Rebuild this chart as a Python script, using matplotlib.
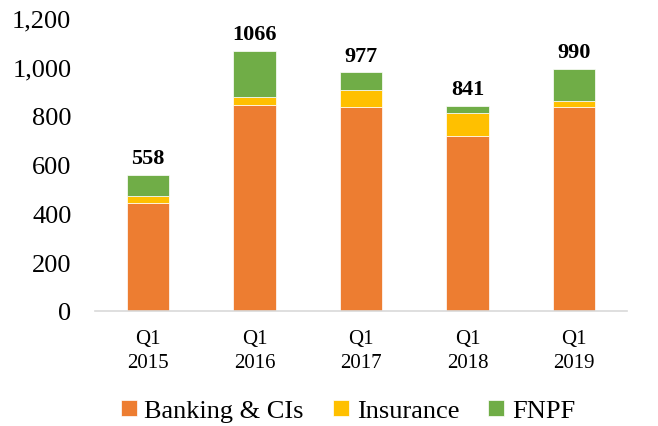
import numpy as np
import matplotlib
matplotlib.use('Agg')
import matplotlib.pyplot as plt
from matplotlib.ticker import FuncFormatter

# Data
quarters = ['Q1\n2015', 'Q1\n2016', 'Q1\n2017', 'Q1\n2018', 'Q1\n2019']
banking = np.array([443, 842, 834, 718, 834])
insurance = np.array([27, 33, 72, 94, 27])
fnpf = np.array([88, 191, 71, 29, 129])
totals = [558, 1066, 977, 841, 990]

plt.rcParams['font.family'] = 'Liberation Serif'

fig = plt.figure(figsize=(6.58, 4.27), dpi=100)
ax = fig.add_axes([95/658, 1 - 312/427, (627 - 95)/658, (312 - 19)/427])

x = np.arange(len(quarters))
w = 0.4
ax.bar(x, banking, w, color='#ED7D31', edgecolor='white', linewidth=0.5,
       label='Banking & CIs')
ax.bar(x, insurance, w, bottom=banking, color='#FFC000', edgecolor='white',
       linewidth=0.5, label='Insurance')
ax.bar(x, fnpf, w, bottom=banking + insurance, color='#70AD47',
       edgecolor='white', linewidth=0.5, label='FNPF')

for xi, t in zip(x, totals):
    ax.annotate(str(t), (xi, t), xytext=(0, 5), textcoords='offset points',
                ha='center', va='bottom', fontsize=16, fontweight='bold')

ax.set_xlim(-0.5, 4.5)
ax.set_ylim(0, 1200)
ax.set_yticks(range(0, 1201, 200))
ax.yaxis.set_major_formatter(FuncFormatter(lambda v, p: f'{int(v):,}'))
ax.set_xticks(x)
ax.set_xticklabels(quarters, fontsize=15, linespacing=1.35)
ax.tick_params(axis='y', length=0, labelsize=19, pad=17)
ax.tick_params(axis='x', length=0, pad=13)
for s in ['top', 'right', 'left']:
    ax.spines[s].set_visible(False)
ax.spines['bottom'].set_color('#D9D9D9')
ax.spines['bottom'].set_linewidth(1.2)

fig.legend(loc='center', bbox_to_anchor=(348/658, 1 - 412/427), ncol=3,
           frameon=False, fontsize=19, handlelength=0.6, handleheight=0.6,
           handletextpad=0.3, columnspacing=1.1, borderaxespad=0)

fig.savefig('out.png', dpi=100)
